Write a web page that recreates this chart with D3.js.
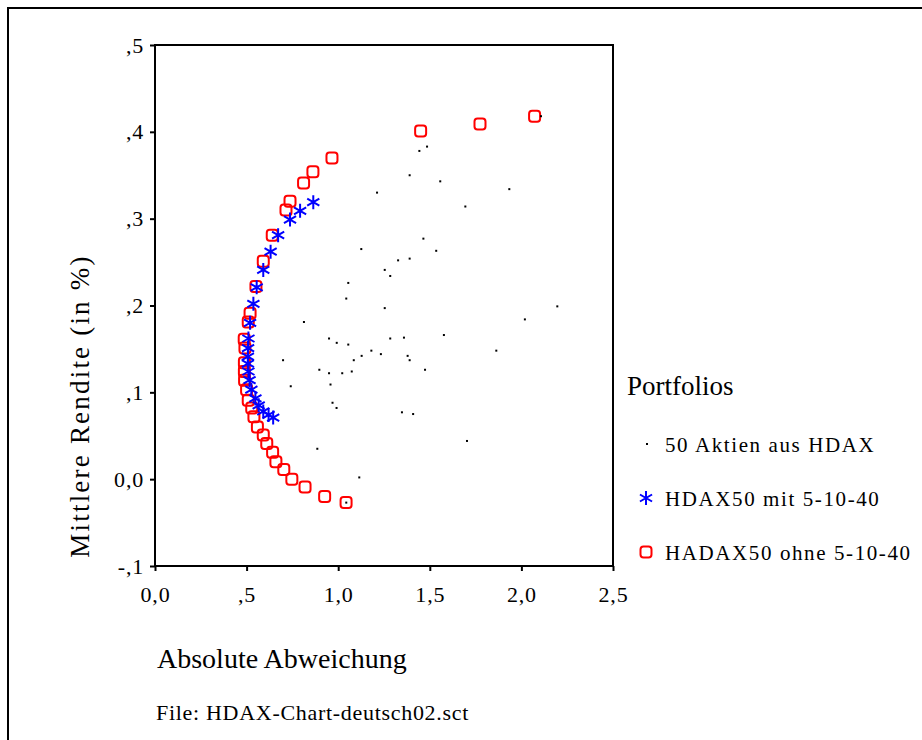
<!DOCTYPE html>
<html>
<head>
<meta charset="utf-8">
<script src="https://cdn.jsdelivr.net/npm/d3@7"></script>
<style>
  body { margin: 0; background: #fff; }
  svg { display: block; font-family: "Liberation Serif", "DejaVu Serif", serif; }
</style>
</head>
<body>
<svg id="chart" width="922" height="740"></svg>
<script>
// 50 einzelne Aktien: [absolute Abweichung, mittlere Rendite]
const aktien = [
  [2.107, 0.418],
  [1.443, 0.378], [1.485, 0.383], [1.390, 0.350], [1.557, 0.343], [1.212, 0.330], [1.934, 0.334], [1.694, 0.314],
  [1.465, 0.277], [1.126, 0.265], [1.535, 0.263], [1.327, 0.252], [1.390, 0.254], [1.254, 0.241], [1.284, 0.234],
  [1.055, 0.226], [1.044, 0.208], [1.254, 0.197], [2.196, 0.199], [2.019, 0.184], [0.813, 0.181], [1.577, 0.166],
  [0.950, 0.162], [0.992, 0.157], [1.055, 0.155], [1.284, 0.162], [1.359, 0.163], [1.181, 0.148], [1.233, 0.144],
  [1.128, 0.142], [1.085, 0.137], [1.379, 0.142], [1.390, 0.137], [1.863, 0.148], [0.699, 0.137], [0.897, 0.126],
  [0.950, 0.122], [1.022, 0.122], [1.074, 0.124], [1.474, 0.126], [0.958, 0.109], [0.741, 0.107], [0.969, 0.088],
  [0.991, 0.082], [1.348, 0.077], [1.409, 0.075],
  [0.886, 0.035], [1.703, 0.044], [1.115, 0.002], [1.044, -0.027]
];

// Portfolios mit 5-10-40 Restriktion
const mitRestriktion = [
  [0.864, 0.319], [0.792, 0.309], [0.737, 0.299], [0.672, 0.281], [0.631, 0.262], [0.591, 0.241], [0.555, 0.221],
  [0.537, 0.202], [0.519, 0.180], [0.510, 0.162], [0.508, 0.151], [0.507, 0.141], [0.507, 0.133], [0.510, 0.124],
  [0.516, 0.114], [0.526, 0.103], [0.548, 0.093], [0.566, 0.085], [0.591, 0.078], [0.620, 0.074], [0.645, 0.071]
];

// Portfolios ohne Restriktion
const ohneRestriktion = [
  [2.072, 0.418], [1.774, 0.409], [1.450, 0.401], [0.966, 0.370], [0.862, 0.354], [0.811, 0.341], [0.737, 0.320],
  [0.715, 0.310], [0.640, 0.281], [0.591, 0.251], [0.551, 0.222], [0.519, 0.191], [0.509, 0.181], [0.487, 0.161],
  [0.491, 0.151], [0.488, 0.134], [0.488, 0.124], [0.489, 0.114], [0.500, 0.103], [0.509, 0.091], [0.528, 0.082],
  [0.540, 0.072], [0.559, 0.060], [0.591, 0.051], [0.610, 0.041], [0.642, 0.031], [0.660, 0.020], [0.703, 0.011],
  [0.747, 0.000], [0.819, -0.009], [0.926, -0.020], [1.043, -0.027]
];

const xTicks = [0, 0.5, 1, 1.5, 2, 2.5];
const yTicks = [-0.1, 0, 0.1, 0.2, 0.3, 0.4, 0.5];
const legendLabels = ["50 Aktien aus HDAX", "HDAX50 mit 5-10-40", "HADAX50 ohne 5-10-40"];

// SPSS-Stil: ",5" statt "0.5", "-,1" mit normalem Bindestrich
function spss(v) {
  let s = Math.abs(v).toFixed(1).replace(".", ",");
  if (Math.abs(v) < 1 && v != 0) s = s.replace("0,", ",");
  return (v < 0 ? "-" : "") + s;
}

const svg = d3.select("#chart");

const plot = { left: 155, top: 45, right: 613, bottom: 566 };

const x = d3.scaleLinear().domain([0, 2.5]).range([plot.left, plot.right]);
const y = d3.scaleLinear().domain([-0.1, 0.5]).range([plot.bottom, plot.top]);

// aeusserer Rahmen (rechts/unten ausserhalb des Bildes)
svg.append("path")
  .attr("d", "M8,760 V8 H940")
  .attr("fill", "none")
  .attr("stroke", "#000")
  .attr("stroke-width", 2);

// Achsen
const xAxis = svg.append("g")
  .attr("transform", "translate(0," + plot.bottom + ")")
  .call(d3.axisBottom(x).tickValues(xTicks).tickFormat(spss).tickSize(5));

const yAxis = svg.append("g")
  .attr("transform", "translate(" + plot.left + ",0)")
  .call(d3.axisLeft(y).tickValues(yTicks).tickFormat(spss).tickSize(5).tickPadding(6));

[xAxis, yAxis].forEach(a => {
  a.select(".domain").remove();
  a.selectAll("line").attr("stroke", "#000").attr("stroke-width", 2);
  a.selectAll("text")
    .attr("font-family", "Liberation Serif, serif")
    .attr("font-size", 22)
    .attr("letter-spacing", 0.8)
    .attr("fill", "#000");
});
xAxis.selectAll("text").attr("dy", null).attr("y", 36);

// Plotrahmen
svg.append("rect")
  .attr("x", plot.left)
  .attr("y", plot.top)
  .attr("width", plot.right - plot.left)
  .attr("height", plot.bottom - plot.top)
  .attr("fill", "none")
  .attr("stroke", "#000")
  .attr("stroke-width", 2);

const starPath = (r) => {
  const c = r * Math.cos(Math.PI / 6), s = r * Math.sin(Math.PI / 6);
  return "M0," + (-r) + "V" + r +
    "M" + (-c) + "," + (-s) + "L" + c + "," + s +
    "M" + (-c) + "," + s + "L" + c + "," + (-s);
};

// rote Quadrate
svg.append("g").selectAll("rect")
  .data(ohneRestriktion)
  .enter()
  .append("rect")
    .attr("x", d => x(d[0]) - 5.5)
    .attr("y", d => y(d[1]) - 5.5)
    .attr("width", 11)
    .attr("height", 11)
    .attr("rx", 3)
    .attr("fill", "none")
    .attr("stroke", "#ff0000")
    .attr("stroke-width", 2);

// blaue Sterne
svg.append("g").selectAll("path")
  .data(mitRestriktion)
  .enter()
  .append("path")
    .attr("transform", d => "translate(" + x(d[0]) + "," + y(d[1]) + ")")
    .attr("d", starPath(7))
    .attr("fill", "none")
    .attr("stroke", "#0000ff")
    .attr("stroke-width", 2);

// schwarze Punkte
svg.append("g").selectAll("rect")
  .data(aktien)
  .enter()
  .append("rect")
    .attr("x", d => x(d[0]) - 1)
    .attr("y", d => y(d[1]) - 1)
    .attr("width", 2)
    .attr("height", 2)
    .attr("fill", "#000");

// Achsentitel
svg.append("text")
  .attr("x", 157)
  .attr("y", 668)
  .attr("font-size", 28)
  .text("Absolute Abweichung");

svg.append("text")
  .attr("transform", "translate(89,406) rotate(-90)")
  .attr("text-anchor", "middle")
  .attr("font-size", 27)
  .attr("letter-spacing", 2.2)
  .text("Mittlere Rendite (in %)");

svg.append("text")
  .attr("x", 156)
  .attr("y", 720)
  .attr("font-size", 22)
  .attr("letter-spacing", 0.7)
  .text("File: HDAX-Chart-deutsch02.sct");

// Legende
const legend = svg.append("g").attr("transform", "translate(627,0)");

legend.append("text")
  .attr("x", 0)
  .attr("y", 395)
  .attr("font-size", 27)
  .text("Portfolios");

const rowY = [444, 498, 552];

legend.selectAll(".legText")
  .data(legendLabels)
  .enter()
  .append("text")
    .attr("class", "legText")
    .attr("x", 38)
    .attr("y", (d, i) => rowY[i] + 8)
    .attr("font-size", 21)
    .attr("letter-spacing", 1.6)
    .text(d => d);

legend.append("rect")
  .attr("x", 19)
  .attr("y", rowY[0] - 1)
  .attr("width", 2)
  .attr("height", 2)
  .attr("fill", "#000");

legend.append("path")
  .attr("transform", "translate(19," + rowY[1] + ")")
  .attr("d", starPath(7))
  .attr("fill", "none")
  .attr("stroke", "#0000ff")
  .attr("stroke-width", 2);

legend.append("rect")
  .attr("x", 19 - 5.5)
  .attr("y", rowY[2] - 5.5)
  .attr("width", 11)
  .attr("height", 11)
  .attr("rx", 3)
  .attr("fill", "none")
  .attr("stroke", "#ff0000")
  .attr("stroke-width", 2);
</script>
</body>
</html>
